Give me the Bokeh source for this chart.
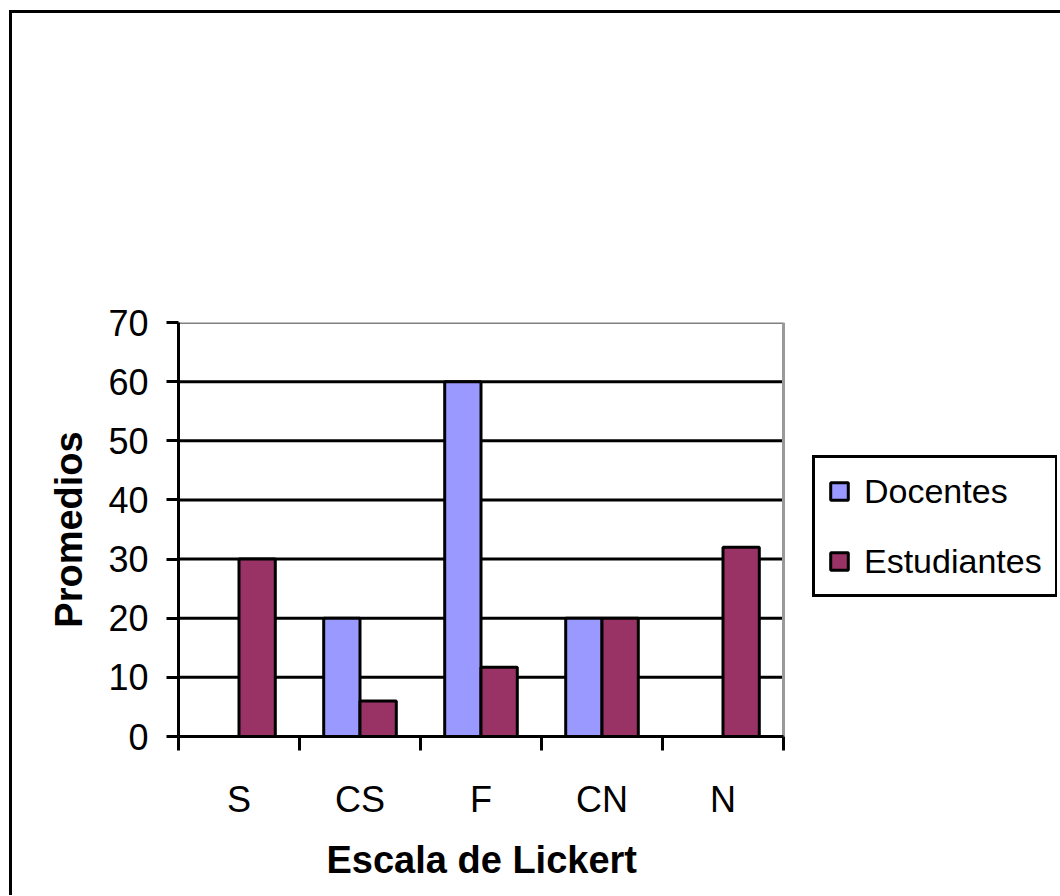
from bokeh.plotting import figure
from bokeh.models import (ColumnDataSource, Range1d, FixedTicker, Legend, LegendItem, Title)
from bokeh.transform import dodge
from bokeh.embed import file_html
from bokeh.resources import INLINE

# ---- data ----
categories = ["S", "CS", "F", "CN", "N"]
docentes = [0, 20, 60, 20, 0]
estudiantes = [30, 6, 11.7, 20, 32]
y_ticks = [0, 10, 20, 30, 40, 50, 60, 70]
series_names = ["Docentes", "Estudiantes"]
x_title = "Escala de Lickert"
y_title = "Promedios"

FONT = "Liberation Sans"

n = len(categories)
centers = [i + 0.5 for i in range(n)]
bounds = [i for i in range(n + 1)]
src = ColumnDataSource(dict(x=centers, doc=docentes, est=estudiantes))

# layout: the category area is 605px wide; the frame continues to the right
# to host the legend
CAT_PX = 605
FRAME_W = 879
FRAME_H = 414

p = figure(frame_width=FRAME_W, frame_height=FRAME_H,
           x_range=Range1d(0, n * FRAME_W / CAT_PX), y_range=Range1d(0, 70),
           output_backend="svg", toolbar_location=None,
           min_border_left=166, min_border_right=3,
           min_border_top=309, min_border_bottom=157)

p.background_fill_color = "white"
p.border_fill_color = "white"
p.outline_line_color = None
p.xgrid.visible = False
p.ygrid.visible = False
p.styles = {"border-left": "3px solid black", "border-top": "3px solid black",
            "box-sizing": "content-box", "margin-left": "9px", "margin-top": "10px"}

# gridlines limited to the category area
inner = y_ticks[1:-1]
p.segment(x0=[0] * len(inner), x1=[n] * len(inner), y0=inner, y1=inner,
          line_color="black", line_width=3, level="underlay")
# plot-area border (top and right, grey)
p.segment(x0=[0], x1=[n], y0=[y_ticks[-1]], y1=[y_ticks[-1]],
          line_color="#808080", line_width=3, level="underlay")
p.segment(x0=[n], x1=[n], y0=[y_ticks[0]], y1=[y_ticks[-1]],
          line_color="#999999", line_width=3, level="underlay")

r1 = p.vbar(x=dodge("x", -0.15, range=p.x_range), top="doc", width=0.3, source=src,
            fill_color="#9999FF", line_color="black", line_width=3)
r2 = p.vbar(x=dodge("x", 0.15, range=p.x_range), top="est", width=0.3, source=src,
            fill_color="#993366", line_color="black", line_width=3)

# y axis
ya = p.yaxis[0]
ya.ticker = FixedTicker(ticks=y_ticks)
ya.axis_line_width = 3
ya.axis_line_color = "black"
ya.major_tick_out = 12
ya.major_tick_in = 0
ya.major_tick_line_width = 3
ya.minor_tick_line_color = None
ya.major_label_text_font = FONT
ya.major_label_text_font_size = "36px"
ya.major_label_text_color = "black"
ya.major_label_standoff = 18
ya.axis_label = y_title
ya.axis_label_text_font = FONT
ya.axis_label_text_font_style = "bold"
ya.axis_label_text_font_size = "38px"
ya.axis_label_text_color = "black"
ya.axis_label_standoff = 15

# x axis
xa = p.xaxis[0]
xa.bounds = (0, n)
xa.ticker = FixedTicker(ticks=centers, minor_ticks=bounds)
xa.major_label_overrides = {c: lab for c, lab in zip(centers, categories)}
xa.axis_line_width = 3
xa.axis_line_color = "black"
xa.major_tick_line_color = None
xa.major_tick_out = 14
xa.major_tick_in = 0
xa.minor_tick_out = 14
xa.minor_tick_in = 0
xa.minor_tick_line_width = 3
xa.minor_tick_line_color = "black"
xa.major_label_text_font = FONT
xa.major_label_text_font_size = "36px"
xa.major_label_text_color = "black"
xa.major_label_standoff = 28

# x-axis title, centred under the category area (not the whole frame)
p.add_layout(Title(text=x_title, align="left", offset=148, standoff=29,
                   text_font=FONT, text_font_style="bold", text_font_size="38px",
                   text_color="black"), "below")

# legend
legend = Legend(items=[LegendItem(label=series_names[0], renderers=[r1]),
                       LegendItem(label=series_names[1], renderers=[r2])],
                location=(634, 139), padding=13, spacing=30,
                label_height=40, glyph_height=22, glyph_width=22, label_standoff=14,
                label_text_font=FONT, label_text_font_size="34px",
                label_text_color="black",
                border_line_color="black", border_line_width=3, border_line_alpha=1,
                background_fill_color="white", background_fill_alpha=1)
p.add_layout(legend, "center")

open("out.html", "w").write(file_html(p, INLINE))
